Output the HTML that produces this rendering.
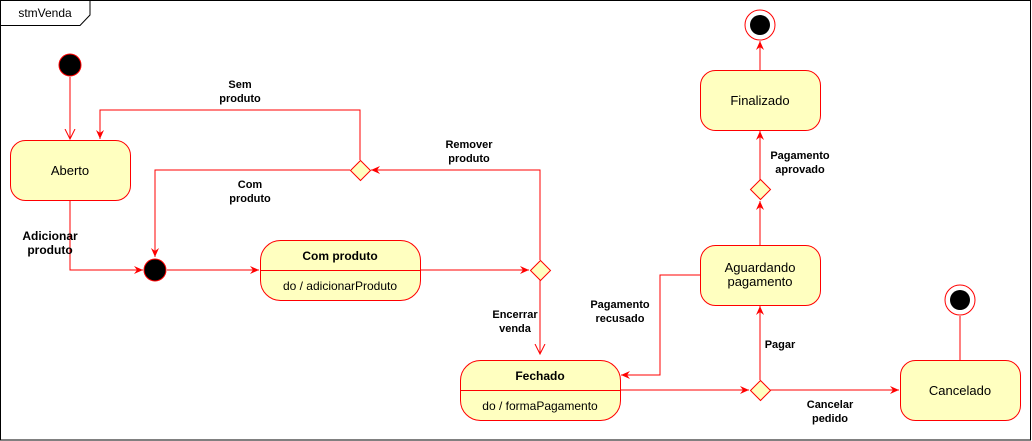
<!DOCTYPE html>
<html><head><meta charset="utf-8"><style>
html,body{margin:0;padding:0;background:#fff;}
svg{display:block;font-family:"Liberation Sans",sans-serif;}
.s{fill:#ffffc0;stroke:#ff0000;stroke-width:1;}
.l{fill:none;stroke:#ff0000;stroke-width:1;}
.t{font-size:13px;fill:#000;text-anchor:middle;}
.b{font-size:11px;font-weight:bold;fill:#000;text-anchor:middle;}
</style></head><body>
<svg width="1032" height="441" viewBox="0 0 1032 441">
<defs>
<marker id="f" markerWidth="10" markerHeight="10" refX="9" refY="5" orient="auto" markerUnits="userSpaceOnUse"><path d="M0,1 L9,5 L0,9 L3,5 Z" fill="#f00"/></marker>
<marker id="o" markerWidth="12" markerHeight="12" refX="10" refY="6" orient="auto" markerUnits="userSpaceOnUse"><path d="M0,1 L10,6 L0,11" fill="none" stroke="#f00"/></marker>
</defs>
<rect x="0.5" y="0.5" width="1030" height="439.5" fill="#fff" stroke="#000"/>
<path d="M0.5,25.5 H80 L90,15 V0.5" fill="none" stroke="#000"/>
<text x="45" y="17" style="font-size:12px" text-anchor="middle">stmVenda</text>

<path class="l" d="M70,77 V139" marker-end="url(#o)"/>
<path class="l" d="M360,160 V110 H100 V139" marker-end="url(#f)"/>
<path class="l" d="M350,170 H155 V257" marker-end="url(#f)"/>
<path class="l" d="M70,200 V270 H143" marker-end="url(#f)"/>
<path class="l" d="M167,270 H259" marker-end="url(#f)"/>
<path class="l" d="M420,270 H529" marker-end="url(#f)"/>
<path class="l" d="M540,260 V170 H371" marker-end="url(#f)"/>
<path class="l" d="M540,280 V354" marker-end="url(#o)"/>
<path class="l" d="M620,390 H749" marker-end="url(#f)"/>
<path class="l" d="M760,380 V306" marker-end="url(#f)"/>
<path class="l" d="M700,275 H660 V375 H621" marker-end="url(#f)"/>
<path class="l" d="M770,390 H899" marker-end="url(#f)"/>
<path class="l" d="M960,360 V316"/>
<path class="l" d="M760,245 V201" marker-end="url(#f)"/>
<path class="l" d="M760,180 V131" marker-end="url(#f)"/>
<path class="l" d="M760,70 V41" marker-end="url(#f)"/>

<circle cx="70" cy="65" r="11" fill="#000" stroke="#f00"/>
<circle cx="155" cy="270" r="11" fill="#000" stroke="#f00"/>
<rect class="s" x="10.5" y="140.5" width="120" height="60" rx="15"/>
<text class="t" x="70" y="175">Aberto</text>
<rect class="s" x="260.5" y="240.5" width="160" height="60" rx="20"/>
<line class="l" x1="260.5" y1="270.5" x2="420.5" y2="270.5"/>
<text class="b" x="340" y="260" style="font-size:12px">Com produto</text>
<text class="t" x="340" y="290" style="font-size:12px">do / adicionarProduto</text>
<rect class="s" x="460.5" y="360.5" width="160" height="60" rx="20"/>
<line class="l" x1="460.5" y1="390.5" x2="620.5" y2="390.5"/>
<text class="b" x="540" y="380" style="font-size:12px">Fechado</text>
<text class="t" x="540" y="410" style="font-size:12px">do / formaPagamento</text>
<rect class="s" x="700.5" y="245.5" width="120" height="60" rx="15"/>
<text class="t" x="760" y="272">Aguardando</text>
<text class="t" x="760" y="286">pagamento</text>
<rect class="s" x="700.5" y="70.5" width="120" height="60" rx="15"/>
<text class="t" x="760" y="105">Finalizado</text>
<rect class="s" x="900.5" y="360.5" width="120" height="60" rx="15"/>
<text class="t" x="960" y="395">Cancelado</text>

<path class="s" d="M360.5,160.5 L370.5,170.5 L360.5,180.5 L350.5,170.5 Z"/>
<path class="s" d="M540.5,260.5 L550.5,270.5 L540.5,280.5 L530.5,270.5 Z"/>
<path class="s" d="M760.5,380.5 L770.5,390.5 L760.5,400.5 L750.5,390.5 Z"/>
<path class="s" d="M760.5,179.5 L770.5,189.5 L760.5,199.5 L750.5,189.5 Z"/>

<circle cx="760" cy="25" r="15" fill="#fff" stroke="#f00"/>
<circle cx="760" cy="25" r="10" fill="#000"/>
<circle cx="960" cy="300" r="15" fill="#fff" stroke="#f00"/>
<circle cx="960" cy="300" r="10" fill="#000"/>

<text class="b" x="240" y="88">Sem</text><text class="b" x="240" y="102">produto</text>
<text class="b" x="250" y="188">Com</text><text class="b" x="250" y="202">produto</text>
<text class="b" x="50" y="240" style="font-size:12px">Adicionar</text><text class="b" x="50" y="254" style="font-size:12px">produto</text>
<text class="b" x="469" y="148">Remover</text><text class="b" x="469" y="162">produto</text>
<text class="b" x="515" y="318">Encerrar</text><text class="b" x="515" y="332">venda</text>
<text class="b" x="620" y="308">Pagamento</text><text class="b" x="620" y="322">recusado</text>
<text class="b" x="780" y="348">Pagar</text>
<text class="b" x="830" y="408">Cancelar</text><text class="b" x="830" y="422">pedido</text>
<text class="b" x="800" y="159">Pagamento</text><text class="b" x="800" y="173">aprovado</text>
</svg>
</body></html>
